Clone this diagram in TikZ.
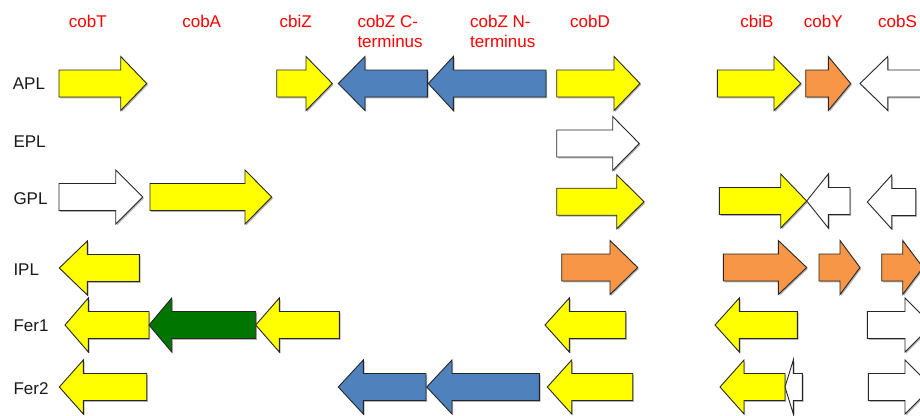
\documentclass[tikz,border=0pt]{standalone}
\usepackage{fontspec}
\setmainfont{Liberation Sans}
\usetikzlibrary{shadows}

\definecolor{geneyellow}{RGB}{255,255,0}
\definecolor{geneblue}{RGB}{79,129,189}
\definecolor{geneorange}{RGB}{247,150,70}
\definecolor{genegreen}{RGB}{0,118,0}
\definecolor{genewhite}{RGB}{255,255,255}
\definecolor{labelred}{RGB}{255,0,0}

\tikzset{
  gene/.style={draw=black!85, line width=0.9pt, line join=miter,
    drop shadow={shadow xshift=1.2pt, shadow yshift=-1.4pt, opacity=0.3, fill=black}},
  strain/.style={anchor=west, inner sep=0pt, text=black!90,
    font=\fontsize{17}{20}\selectfont},
  locus/.style={anchor=north, inner sep=0pt, text=labelred,
    font=\fontsize{17}{20.5}\selectfont},
}

% gene arrow: [head half-height]{fill}{tail x}{head base x}{tip x}{centre y}
\newcommand\genearrow[6][27]{%
  \path[gene, fill=#2]
    (#3,#6-13.5) -- (#4,#6-13.5) -- (#4,#6-#1) -- (#5,#6)
    -- (#4,#6+#1) -- (#4,#6+13.5) -- (#3,#6+13.5) -- cycle;}

\begin{document}
\begin{tikzpicture}[x=1pt, y=-1pt]
  \useasboundingbox (0,0) rectangle (920,415);
  \clip (0,0) rectangle (920,415);

  % locus names
  \node[locus] (lcobT) at (87.8,14.5) {cobT};
  \node[locus] (lcobA) at (201.7,14.5) {cobA};
  \node[locus] (lcbiZ) at (295.8,14.5) {cbiZ};
  \node[locus, anchor=north west, align=left] (lcobZC) at (357.3,14.5) {cobZ C-\\terminus};
  \node[locus, anchor=north west, align=left] (lcobZN) at (470,14.5) {cobZ N-\\terminus};
  \node[locus] (lcobD) at (590,14.5) {cobD};
  \node[locus] (lcbiB) at (757,14.5) {cbiB};
  \node[locus] (lcobY) at (823.3,14.5) {cobY};
  \node[locus] (lcobS) at (897.5,14.5) {cobS};

  % strain names
  \node[strain] (sAPL)  at (12.7,84)  {APL};
  \node[strain] (sEPL)  at (13.3,142) {EPL};
  \node[strain] (sGPL)  at (13.3,199) {GPL};
  \node[strain] (sIPL)  at (13.3,269.5) {IPL};
  \node[strain] (sFer1) at (13.3,325.3) {Fer1};
  \node[strain] (sFer2) at (13.3,388.3) {Fer2};

  % APL
  \genearrow{geneyellow}{59}{120.7}{146.7}{83.5}
  \genearrow{geneyellow}{276.7}{306}{332.3}{83.5}
  \genearrow{geneblue}{427.3}{365}{338.3}{83.5}
  \genearrow{geneblue}{546}{453.3}{428.3}{83.5}
  \genearrow{geneyellow}{556.7}{614}{640}{83.5}
  \genearrow{geneyellow}{717.3}{774}{800.7}{83.5}
  \genearrow{geneorange}{805.7}{828.3}{850.7}{83.5}
  \genearrow{genewhite}{940}{887.7}{860}{83.5}

  % EPL
  \genearrow{genewhite}{556.7}{612.7}{639.3}{143.5}

  % GPL
  \genearrow{genewhite}{59}{115.7}{142.7}{197}
  \genearrow{geneyellow}{150}{245}{271.7}{197}
  \genearrow{geneyellow}{556.7}{616.7}{644}{201.7}
  \genearrow{geneyellow}{719.3}{780.7}{806.7}{201}
  \genearrow{genewhite}{850}{828.3}{806.7}{201}
  \genearrow{genewhite}{915.7}{891.7}{867.3}{202}

  % IPL
  \genearrow{geneyellow}{139.3}{87.3}{59.3}{268}
  \genearrow{geneorange}{561.7}{610}{637.7}{267.5}
  \genearrow{geneorange}{723.3}{778.3}{806.7}{267.5}
  \genearrow{geneorange}{819}{840}{860}{267.5}
  \genearrow{geneorange}{881.7}{902.7}{923}{267.5}

  % Fer1
  \genearrow{geneyellow}{149}{88.3}{65}{325}
  \genearrow{genegreen}{255.7}{171.7}{149}{325}
  \genearrow{geneyellow}{339.3}{279.3}{255.7}{325}
  \genearrow{geneyellow}{625.7}{569.3}{545}{325}
  \genearrow{geneyellow}{797.3}{739.3}{715}{325}
  \genearrow{genewhite}{867.3}{905}{932}{325}

  % Fer2
  \genearrow{geneyellow}{146.7}{83.3}{59.3}{387}
  \genearrow{geneblue}{426}{363.3}{338.3}{387}
  \genearrow{geneblue}{539.3}{452}{426.7}{387}
  \genearrow{geneyellow}{632.7}{571.7}{547.3}{387}
  \genearrow{geneyellow}{785}{744}{720}{387}
  \genearrow{genewhite}{802.3}{793.3}{785}{387}
  \genearrow{genewhite}{868.3}{905}{932}{387}
\end{tikzpicture}
\end{document}
